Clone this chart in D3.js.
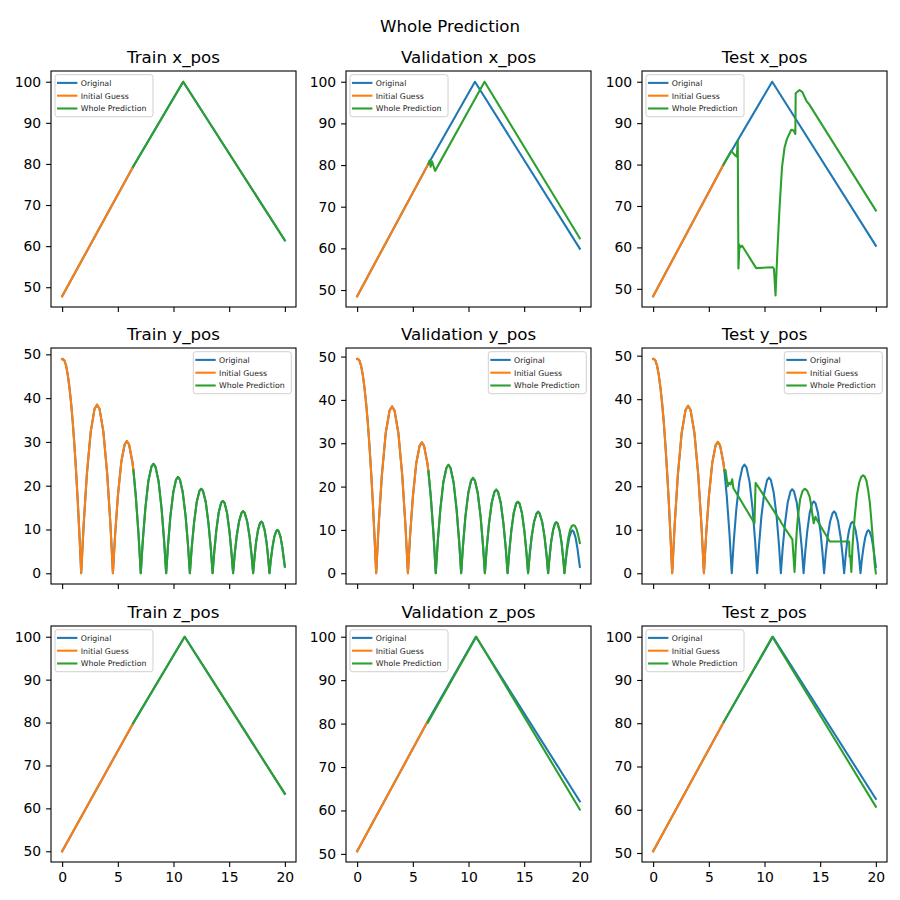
<!DOCTYPE html>
<html>
<head>
<meta charset="utf-8">
<script src="https://cdn.jsdelivr.net/npm/d3@7"></script>
<style>
  body { margin: 0; background: #fff; }
  svg { display: block; font-family: "DejaVu Sans", sans-serif; }
</style>
</head>
<body>
<div id="chart"></div>
<script>
const fig_width = 900,
      fig_height = 900;
const col_left = [51, 346, 642],
      col_width = 245;
const row_top = [71, 348, 626],
      row_height = 236;

const colors = ["#1f77b4", "#ff7f0e", "#2ca02c"];
const series_names = ["Original", "Initial Guess", "Whole Prediction"];

const x_ticks = [0, 5, 10, 15, 20];
const pos_ticks = [50, 60, 70, 80, 90, 100];
const bounce_ticks = [0, 10, 20, 30, 40, 50];

// ---- x_pos  [time, value]
const train_x_orig = [[0, 47.8], [6.37, 79.3], [10.87, 100], [20, 61.4]];
const train_x_init = [[0, 47.8], [6.37, 79.3]];
const train_x_pred = [[6.37, 79.3], [10.87, 100], [20, 61.4]];

const val_x_orig = [[0, 48.5], [6.4, 80.3], [10.58, 100], [20, 59.9]];
const val_x_init = [[0, 48.5], [6.4, 80.3]];
const val_x_pred = [[6.4, 80.3], [6.5, 81.1], [6.6, 79.6], [6.72, 80.9], [7.0, 78.6], [11.44, 100], [20, 62.4]];

const test_x_orig = [[0, 48.2], [6.32, 80.0], [10.69, 100], [20, 60.4]];
const test_x_init = [[0, 48.2], [6.32, 80.0]];
const test_x_pred = [[6.32, 80.0], [7.0, 83.3], [7.3, 82.4], [7.51, 81.9], [7.6, 85.8], [7.66, 54.9],
  [7.75, 60.6], [7.85, 60.0], [7.99, 60.4], [9.25, 55.0], [10.76, 55.2], [10.85, 54.8], [10.99, 48.4],
  [11.14, 58.1], [11.35, 69.5], [11.57, 79.3], [11.8, 84.1], [12.02, 86.2], [12.4, 88.4], [12.61, 88.2],
  [12.77, 87.4], [12.8, 97.2], [13.15, 98.0], [13.4, 97.5], [13.76, 95.4], [14.0, 94.6], [20, 68.9]];

// ---- y_pos: first drop differs a little, the bounces are the same in all three sets
const train_y_head = [[0, 48.9], [0.05, 49.0], [0.2, 48.6], [0.35, 47.5], [0.5, 45.4], [0.65, 42.6],
  [0.8, 39.0], [0.95, 34.6], [1.1, 29.4], [1.25, 23.4], [1.4, 16.6], [1.55, 9.0], [1.63, 4.6]];
const val_y_head = [[0, 49.45], [0.05, 49.5], [0.2, 49.1], [0.35, 47.9], [0.5, 45.9], [0.65, 43.0],
  [0.8, 39.4], [0.95, 35.0], [1.1, 29.7], [1.25, 23.6], [1.4, 16.8], [1.55, 9.0], [1.63, 4.6]];
const test_y_head = [[0, 49.25], [0.05, 49.3], [0.2, 48.9], [0.35, 47.7], [0.5, 45.7], [0.65, 42.8],
  [0.8, 39.2], [0.95, 34.9], [1.1, 29.6], [1.25, 23.5], [1.4, 16.7], [1.55, 9.0], [1.63, 4.6]];
const y_bounces = [
  [1.71, 0], [1.938, 11.3], [2.223, 22.7], [2.565, 32.3], [2.907, 37.5], [3.135, 38.5], [3.363, 37.5], [3.705, 32.3], [4.047, 22.7], [4.332, 11.3], [4.56, 0],
  [4.76, 8.9], [5.01, 17.8], [5.31, 25.4], [5.61, 29.4], [5.81, 30.2], [6.01, 29.4], [6.31, 25.4], [6.4, 23.5], [6.61, 17.8], [6.86, 8.9], [7.06, 0],
  [7.24, 7.35], [7.47, 14.75], [7.74, 21.0], [8.02, 24.35], [8.2, 25], [8.38, 24.35], [8.66, 21.0], [8.93, 14.75], [9.16, 7.35], [9.34, 0],
  [9.51, 6.5], [9.72, 13.0], [9.98, 18.5], [10.23, 21.4], [10.405, 22], [10.575, 21.4], [10.83, 18.5], [11.09, 13.0], [11.3, 6.5], [11.47, 0],
  [11.63, 5.7], [11.84, 11.4], [12.08, 16.2], [12.33, 18.8], [12.49, 19.3], [12.65, 18.8], [12.9, 16.2], [13.14, 11.4], [13.35, 5.7], [13.51, 0],
  [13.66, 4.9], [13.84, 9.7], [14.06, 13.9], [14.28, 16.1], [14.43, 16.5], [14.58, 16.1], [14.8, 13.9], [15.02, 9.7], [15.2, 4.9], [15.35, 0],
  [15.49, 4.2], [15.67, 8.4], [15.89, 11.9], [16.11, 13.8], [16.25, 14.2], [16.39, 13.8], [16.61, 11.9], [16.83, 8.4], [17.01, 4.2], [17.15, 0],
  [17.27, 3.5], [17.41, 7.0], [17.59, 9.9], [17.77, 11.5], [17.885, 11.8], [18.0, 11.5], [18.18, 9.9], [18.36, 7.0], [18.5, 3.5], [18.62, 0],
  [18.73, 2.9], [18.88, 5.8], [19.05, 8.3], [19.22, 9.6], [19.33, 9.9], [19.44, 9.6], [19.61, 8.3], [19.78, 5.8], [19.9, 3.4], [20, 1.5]];
const val_y_tail = [[18.62, 0], [18.74, 3.4], [18.84, 6.0], [18.97, 8.3], [19.12, 10.0], [19.28, 10.9],
  [19.42, 11.1], [19.56, 10.9], [19.7, 10.2], [19.85, 8.8], [20, 7.0]];
const test_y_pred = [[6.4, 23.6], [6.5, 23.7], [6.7, 20.0], [6.8, 20.8], [6.95, 20.4], [7.1, 21.6], [7.2, 19.6],
  [9.1, 11.5], [9.2, 20.8], [11.3, 12.5], [11.4, 12.2], [11.5, 11.6], [12.5, 7.8], [12.7, 0.3], [12.8, 5.5],
  [12.9, 9.8], [13.0, 13.0], [13.2, 17.0], [13.4, 18.8], [13.55, 19.3], [13.65, 19.4], [13.85, 18.9],
  [14.05, 17.6], [14.2, 15.5], [14.3, 13.5], [14.42, 11.5], [14.57, 13.0], [14.7, 12.3], [15.86, 7.3],
  [17.6, 7.3], [17.64, 3.8], [17.7, 4.0], [17.8, 0.3], [17.9, 6.0], [18.0, 9.8], [18.1, 13.0], [18.3, 18.0],
  [18.5, 20.8], [18.7, 22.2], [18.86, 22.5], [19.0, 22.2], [19.16, 21.2], [19.3, 19.2], [19.46, 16.2],
  [19.6, 12.0], [19.76, 6.9], [19.9, 2.0], [20, 0]];

// ---- z_pos
const train_z_orig = [[0, 50.0], [6.37, 79.8], [11.0, 100], [20, 63.4]];
const train_z_init = [[0, 50.0], [6.37, 79.8]];
const train_z_pred = [[6.37, 79.8], [11.0, 100], [20, 63.4]];

const val_z_orig = [[0, 50.6], [6.31, 80.4], [10.66, 100], [20, 62.1]];
const val_z_init = [[0, 50.6], [6.31, 80.4]];
const val_z_pred = [[6.34, 80.2], [10.7, 100], [20, 60.2]];

const test_z_orig = [[0, 50.4], [6.34, 80.3], [10.75, 100], [20, 62.5]];
const test_z_init = [[0, 50.4], [6.34, 80.3]];
const test_z_pred = [[6.34, 80.3], [10.7, 100], [20, 60.7]];

const y_cut = 6.4;
const y_end_val = 18.62;

const train_y_orig = train_y_head.concat(y_bounces),
      val_y_orig = val_y_head.concat(y_bounces),
      test_y_orig = test_y_head.concat(y_bounces);
const first_part = (arr) => arr.filter((d) => d[0] <= y_cut);

const panels = [
  {title: "Train x_pos",      row: 0, col: 0, series: [train_x_orig, train_x_init, train_x_pred], ticks: pos_ticks, legend: "left"},
  {title: "Validation x_pos", row: 0, col: 1, series: [val_x_orig, val_x_init, val_x_pred],       ticks: pos_ticks, legend: "left"},
  {title: "Test x_pos",       row: 0, col: 2, series: [test_x_orig, test_x_init, test_x_pred],    ticks: pos_ticks, legend: "left"},
  {title: "Train y_pos",      row: 1, col: 0, series: [train_y_orig, first_part(train_y_orig), y_bounces.filter((d) => d[0] >= y_cut)], ticks: bounce_ticks, legend: "right"},
  {title: "Validation y_pos", row: 1, col: 1, series: [val_y_orig, first_part(val_y_orig),
      y_bounces.filter((d) => d[0] >= y_cut && d[0] < y_end_val).concat(val_y_tail)], ticks: bounce_ticks, legend: "right"},
  {title: "Test y_pos",       row: 1, col: 2, series: [test_y_orig, first_part(test_y_orig), test_y_pred], ticks: bounce_ticks, legend: "right"},
  {title: "Train z_pos",      row: 2, col: 0, series: [train_z_orig, train_z_init, train_z_pred], ticks: pos_ticks, legend: "left"},
  {title: "Validation z_pos", row: 2, col: 1, series: [val_z_orig, val_z_init, val_z_pred],       ticks: pos_ticks, legend: "left"},
  {title: "Test z_pos",       row: 2, col: 2, series: [test_z_orig, test_z_init, test_z_pred],    ticks: pos_ticks, legend: "left"}
];

const legend_box = {width: 98, height: 42, row: 12.8};

function create_svg(tag) {
  return d3.select(tag)
    .append("svg")
      .attr("width", fig_width)
      .attr("height", fig_height);
}

function padded(ext) {
  const pad = (ext[1] - ext[0]) * 0.05;
  return [ext[0] - pad, ext[1] + pad];
}

function style_axis(g) {
  g.select(".domain").remove();
  g.attr("font-size", 13.9)
   .attr("font-family", "DejaVu Sans");
  g.selectAll(".tick line").attr("stroke", "#000").attr("stroke-width", 1.1);
  g.selectAll(".tick text").attr("fill", "#000");
}

function draw_legend(g, p, left, top) {
  const lx = p.legend === "left" ? left + 4 : left + col_width - 4.7 - legend_box.width,
        ly = top + 3.7;
  const lg = g.append("g").attr("transform", `translate(${lx},${ly})`);
  lg.append("rect")
    .attr("width", legend_box.width)
    .attr("height", legend_box.height)
    .attr("rx", 2.5)
    .attr("fill", "#fff")
    .attr("fill-opacity", 0.8)
    .attr("stroke", "#d0d0d0")
    .attr("stroke-width", 1);
  const rows = lg.selectAll("g.entry")
    .data(series_names)
    .join("g")
      .attr("class", "entry")
      .attr("transform", (d, i) => `translate(0,${8.2 + i * legend_box.row})`);
  rows.append("line")
    .attr("x1", 2).attr("x2", 22.4)
    .attr("stroke", (d, i) => colors[i])
    .attr("stroke-width", 2.08);
  rows.append("text")
    .attr("x", 25.8)
    .attr("dy", "0.36em")
    .attr("font-size", 7.8)
    .attr("fill", "#222")
    .text((d) => d);
}

function draw_panel(svg, p) {
  const left = col_left[p.col],
        top = row_top[p.row];
  const all_points = [].concat(...p.series);
  const x = d3.scaleLinear()
    .domain(padded(d3.extent(all_points, (d) => d[0])))
    .range([left, left + col_width]);
  const y = d3.scaleLinear()
    .domain(padded(d3.extent(all_points, (d) => d[1])))
    .range([top + row_height, top]);

  const g = svg.append("g");

  // axes
  const x_axis = d3.axisBottom(x).tickValues(x_ticks).tickSize(4.9).tickPadding(4.9);
  if (p.row < 2) x_axis.tickFormat("");
  g.append("g")
    .attr("transform", `translate(0,${top + row_height})`)
    .call(x_axis)
    .call(style_axis);
  g.append("g")
    .attr("transform", `translate(${left},0)`)
    .call(d3.axisLeft(y).tickValues(p.ticks).tickSize(4.9).tickPadding(4.9))
    .call(style_axis);

  // lines
  const line = d3.line()
    .x((d) => x(d[0]))
    .y((d) => y(d[1]));
  g.selectAll("path.series")
    .data(p.series)
    .join("path")
      .attr("class", "series")
      .attr("d", line)
      .attr("fill", "none")
      .attr("stroke", (d, i) => colors[i])
      .attr("stroke-width", 2.08)
      .attr("stroke-linejoin", "round")
      .attr("stroke-linecap", "square");

  // frame
  g.append("rect")
    .attr("x", left).attr("y", top)
    .attr("width", col_width).attr("height", row_height)
    .attr("fill", "none")
    .attr("stroke", "#000")
    .attr("stroke-width", 1.1);

  g.append("text")
    .attr("x", left + col_width / 2)
    .attr("y", top - 8.5)
    .attr("text-anchor", "middle")
    .attr("font-size", 16.67)
    .text(p.title);

  draw_legend(g, p, left, top);
}

const svg = create_svg("#chart");
svg.append("rect").attr("width", fig_width).attr("height", fig_height).attr("fill", "#fff");
svg.append("text")
  .attr("x", fig_width / 2)
  .attr("y", 32)
  .attr("text-anchor", "middle")
  .attr("font-size", 16.67)
  .text("Whole Prediction");

panels.forEach((p) => draw_panel(svg, p));
</script>
</body>
</html>
